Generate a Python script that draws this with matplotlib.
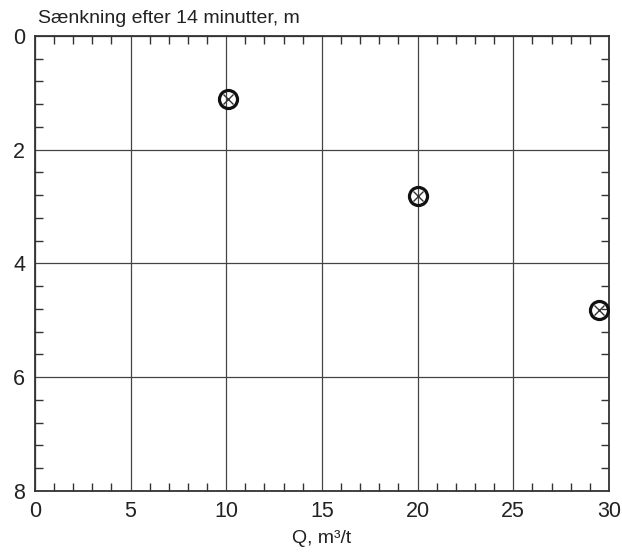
import numpy as np
import matplotlib.pyplot as plt
from matplotlib.ticker import MultipleLocator

# data
q = [10.1, 20.0, 29.5]
drawdown = [1.1, 2.82, 4.82]

plt.rcParams['font.family'] = ['Liberation Sans', 'DejaVu Sans']

fig = plt.figure(figsize=(6.22, 5.54), dpi=100)
ax = fig.add_axes([0.056, 0.114, 0.923, 0.821])

ax.set_xlim(0, 30)
ax.set_ylim(8, 0)
ax.xaxis.set_major_locator(MultipleLocator(5))
ax.xaxis.set_minor_locator(MultipleLocator(1))
ax.yaxis.set_major_locator(MultipleLocator(2))
ax.yaxis.set_minor_locator(MultipleLocator(0.4))
ax.tick_params(which='major', length=0, labelsize=15.5, pad=7, colors='#222222')
ax.tick_params(which='minor', direction='in', length=6, width=1,
               top=True, right=True, color='#333333')
ax.grid(True, which='major', color='#444444', linewidth=0.9)
for s in ax.spines.values():
    s.set_color('#333333')
    s.set_linewidth(1.3)

ax.plot(q, drawdown, linestyle='none', marker='o', markersize=13,
        markerfacecolor='none', markeredgecolor='#111111', markeredgewidth=2.3, zorder=3)
ax.plot(q, drawdown, linestyle='none', marker='x', markersize=7,
        markeredgecolor='#333333', markeredgewidth=1, zorder=3)

fig.text(0.061, 0.966, 'Sænkning efter 14 minutter, m', fontsize=14, color='#222222',
         va='center', ha='left')
ax.set_xlabel('Q, m³/t', fontsize=14, color='#222222', labelpad=6)

fig.savefig('out.png', dpi=100)
